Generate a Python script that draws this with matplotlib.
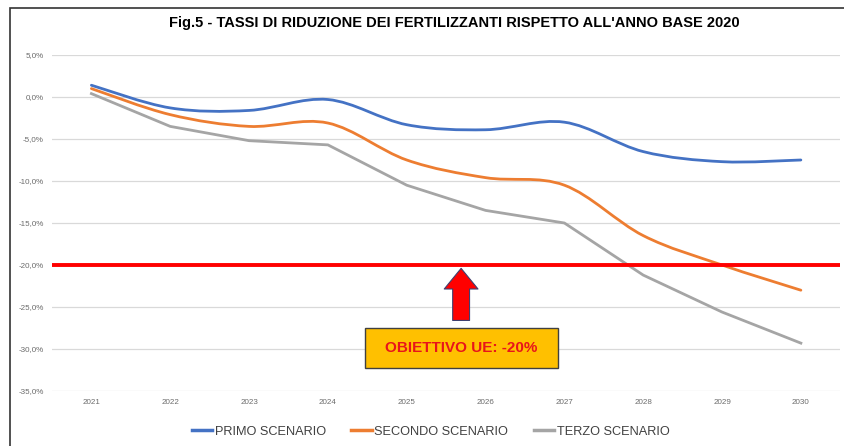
import numpy as np
import matplotlib
matplotlib.use("Agg")
import matplotlib.pyplot as plt
from matplotlib.path import Path
from matplotlib.patches import PathPatch, Rectangle
from matplotlib.lines import Line2D
from matplotlib.ticker import FuncFormatter

years = [2021, 2022, 2023, 2024, 2025, 2026, 2027, 2028, 2029, 2030]
primo = [1.4, -1.3, -1.6, -0.3, -3.3, -3.9, -3.0, -6.5, -7.7, -7.5]
secondo = [1.0, -2.1, -3.5, -3.1, -7.5, -9.6, -10.5, -16.5, -20.0, -23.0]
terzo = [0.4, -3.5, -5.2, -5.7, -10.5, -13.5, -15.0, -21.2, -25.6, -29.3]
target = -20.0

names = ["PRIMO SCENARIO", "SECONDO SCENARIO", "TERZO SCENARIO"]
colors = ["#4472C4", "#ED7D31", "#A5A5A5"]

narrow = ["Liberation Sans", "DejaVu Sans"]


def smooth_path(x, y):
    # Excel-style smoothed line: Catmull-Rom segments drawn as cubic Beziers
    x = np.asarray(x, float)
    y = np.asarray(y, float)
    verts = [(x[0], y[0])]
    codes = [Path.MOVETO]
    n = len(x)
    for i in range(n - 1):
        p0 = (x[max(i - 1, 0)], y[max(i - 1, 0)])
        p1 = (x[i], y[i])
        p2 = (x[i + 1], y[i + 1])
        p3 = (x[min(i + 2, n - 1)], y[min(i + 2, n - 1)])
        c1 = (p1[0] + (p2[0] - p0[0]) / 6, p1[1] + (p2[1] - p0[1]) / 6)
        c2 = (p2[0] - (p3[0] - p1[0]) / 6, p2[1] - (p3[1] - p1[1]) / 6)
        verts += [c1, c2, p2]
        codes += [Path.CURVE4] * 3
    return Path(verts, codes)


fig = plt.figure(figsize=(8.44, 4.46), dpi=100)
ax = fig.add_axes([0.0616, 0.1233, 0.934, 0.7534])

# outer frame of the picture (only top and left edges visible)
fig.patches.append(Rectangle((10 / 844, -10 / 446), 850 / 844, 448 / 446,
                             transform=fig.transFigure, fill=False,
                             ec="#333333", lw=1.2))

ax.set_xlim(2020.5, 2030.5)
ax.set_ylim(-35, 5)
ax.set_yticks(np.arange(-35, 6, 5))
ax.set_xticks(years)
ax.yaxis.set_major_formatter(FuncFormatter(lambda v, p: f"{v:.1f}%".replace(".", ",")))
ax.grid(axis="y", color="#D9D9D9", lw=0.9)
ax.set_axisbelow(True)
for s in ax.spines.values():
    s.set_visible(False)
ax.tick_params(length=0, labelsize=5.8, labelcolor="#6b6b6b", pad=6)
for lab in ax.get_xticklabels() + ax.get_yticklabels():
    lab.set_family(narrow)

for vals, c, smooth in zip([primo, secondo, terzo], colors, [True, True, False]):
    if smooth:
        ax.add_patch(PathPatch(smooth_path(years, vals), fill=False, ec=c, lw=2.0,
                               capstyle="round", zorder=3))
    else:
        ax.plot(years, vals, color=c, lw=2.0, zorder=3)

ax.axhline(target, color="#FF0000", lw=2.8, zorder=4)

ax.annotate("", xy=(2025.69, -20.4), xytext=(2025.69, -26.6),
            arrowprops=dict(arrowstyle="simple,head_length=0.55,head_width=0.9,tail_width=0.45",
                            mutation_scale=27, fc="#FF0000", ec="#3F3F6F", lw=0.8,
                            shrinkA=0, shrinkB=0), zorder=5)

ax.add_patch(Rectangle((2024.47, -32.26), 2.45, 4.76, fc="#FFC000", ec="#404040",
                       lw=1.0, zorder=5))
ax.text(2025.695, -29.9, "OBIETTIVO UE: -20%", ha="center", va="center",
        fontsize=11, fontweight="bold", color="#E8141B",
        family=["Liberation Sans"], zorder=6)

fig.text(0.538, 0.948, "Fig.5 - TASSI DI RIDUZIONE DEI FERTILIZZANTI RISPETTO ALL'ANNO BASE 2020",
         ha="center", va="center", fontsize=10.5, fontweight="bold", family=narrow)

handles = [Line2D([], [], color=c, lw=2.5) for c in colors]
fig.legend(handles, names, loc="center", bbox_to_anchor=(0.51, 0.032), ncol=3,
           frameon=False, handlelength=1.6, handletextpad=0.2, columnspacing=2.0,
           prop={"family": narrow, "size": 9.2}, labelcolor="#404040")

fig.savefig("out.png", dpi=100)
